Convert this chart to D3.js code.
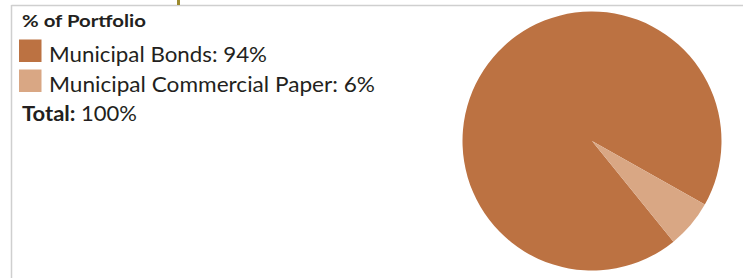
<!DOCTYPE html>
<html><head><meta charset="utf-8">
<script src="https://cdn.jsdelivr.net/npm/d3@7"></script>
<style>body{margin:0;background:#fff}svg{display:block}</style>
</head><body>
<script>
const categories = ["Municipal Bonds", "Municipal Commercial Paper"];
const values = [94, 6];
const colors = ["#BC7242", "#D9A784"];
const title = "% of Portfolio";
const totalLabel = "Total:";
const totalValue = "100%";

const W = 743, H = 278;
const svg = d3.select("body").append("svg").attr("width", W).attr("height", H);

// frame lines
svg.append("line").attr("x1", 11.5).attr("x2", W).attr("y1", 5.5).attr("y2", 5.5).attr("stroke", "#cfcfcf").attr("stroke-width", 1.5);
svg.append("line").attr("x1", 11.5).attr("x2", 11.5).attr("y1", 5).attr("y2", H).attr("stroke", "#cfcfcf").attr("stroke-width", 1.5);
svg.append("rect").attr("x", 177).attr("y", 0).attr("width", 3).attr("height", 5).attr("fill", "#9c8a2e");

const font = "Lato, 'Open Sans', sans-serif";
const txt = "#231f20";

svg.append("text").attr("x", 22).attr("y", 27).attr("font-family", font).attr("font-weight", "bold")
  .attr("font-size", 17).attr("fill", txt).attr("textLength", 124).attr("lengthAdjust", "spacingAndGlyphs").text(title);

const legendW = [218, 326];
const leg = svg.selectAll("g.leg").data(categories).join("g").attr("class", "leg")
  .attr("transform", (d, i) => `translate(19,${39.5 + i * 30})`);
leg.append("rect").attr("width", 22.5).attr("height", 22.5).attr("fill", (d, i) => colors[i]);
leg.append("text").attr("x", 30).attr("y", 22).attr("font-family", font).attr("font-size", 21.5).attr("fill", txt)
  .attr("textLength", (d, i) => legendW[i]).attr("lengthAdjust", "spacingAndGlyphs")
  .text((d, i) => `${d}: ${values[i]}%`);

const tt = svg.append("text").attr("x", 22).attr("y", 121).attr("font-family", font).attr("font-size", 21.5).attr("fill", txt)
  .attr("textLength", 115).attr("lengthAdjust", "spacingAndGlyphs");
tt.append("tspan").attr("font-weight", "bold").text(totalLabel);
tt.append("tspan").text(" " + totalValue);

// pie
const cx = 592, cy = 141, r = 129.5;
const start = 141 * Math.PI / 180;
const pie = d3.pie().sort(null).startAngle(start).endAngle(start + 2 * Math.PI);
const arc = d3.arc().innerRadius(0).outerRadius(r);
svg.append("g").attr("transform", `translate(${cx},${cy})`)
  .selectAll("path").data(pie(values)).join("path")
  .attr("d", arc).attr("fill", (d, i) => colors[i]);
</script>
</body></html>
